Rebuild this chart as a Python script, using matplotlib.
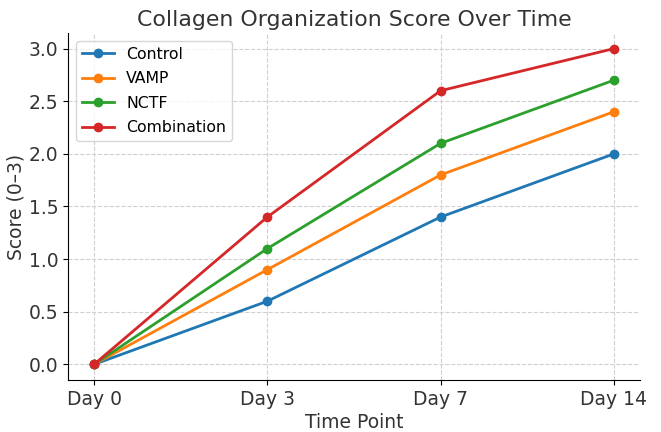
import matplotlib
matplotlib.use("Agg")
import matplotlib.pyplot as plt

time_points = ["Day 0", "Day 3", "Day 7", "Day 14"]
control = [0.0, 0.6, 1.4, 2.0]
vamp = [0.0, 0.9, 1.8, 2.4]
nctf = [0.0, 1.1, 2.1, 2.7]
combination = [0.0, 1.4, 2.6, 3.0]

series = [("Control", control, "#1f77b4"), ("VAMP", vamp, "#ff7f0e"),
          ("NCTF", nctf, "#2ca02c"), ("Combination", combination, "#d62728")]

fig = plt.figure(figsize=(6.61, 4.32), dpi=100)
ax = fig.add_axes([0.103, 0.12, 0.865, 0.804])
for name, vals, c in series:
    ax.plot(time_points, vals, marker="o", color=c, label=name, linewidth=2, markersize=6)

ax.set_title("Collagen Organization Score Over Time", fontsize=15.8, color="#333333", pad=5)
ax.set_xlabel("Time Point", fontsize=13.5, color="#333333", labelpad=3)
ax.set_ylabel("Score (0–3)", fontsize=13.5, color="#333333", labelpad=2)
ax.tick_params(labelsize=13.5, labelcolor="#333333")
ax.grid(True, linestyle="--", color="#d0d0d0", linewidth=0.8)
ax.spines["top"].set_visible(False)
ax.spines["right"].set_visible(False)
ax.legend(loc="upper left", fontsize=11.3, labelspacing=0.6)
fig.savefig("out.png", dpi=100)
